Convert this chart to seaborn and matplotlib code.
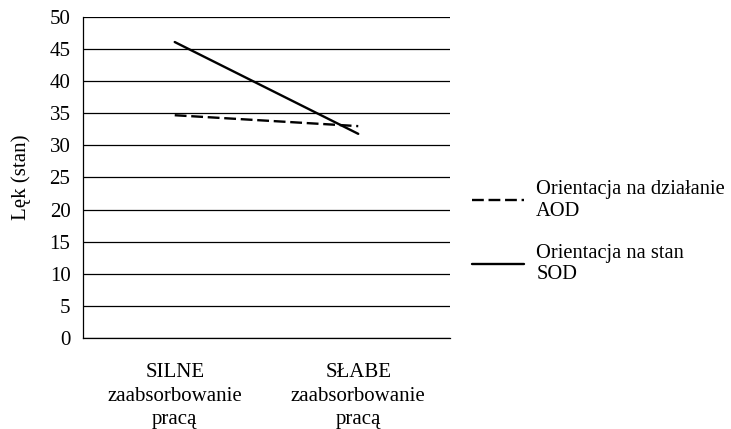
import pandas as pd
import matplotlib
matplotlib.use("Agg")
import matplotlib.pyplot as plt
import seaborn as sns

# dane
categories = ["SILNE\nzaabsorbowanie\npracą", "SŁABE\nzaabsorbowanie\npracą"]
series_names = ["Orientacja na działanie\nAOD", "Orientacja na stan\nSOD"]
aod_values = [34.7, 33.0]
sod_values = [46.1, 31.8]
y_ticks = list(range(0, 51, 5))

df = pd.DataFrame({
    "kategoria": categories * 2,
    "seria": [series_names[0]] * 2 + [series_names[1]] * 2,
    "lek": aod_values + sod_values,
})
df["x"] = df["kategoria"].map({c: i for i, c in enumerate(categories)})

sns.set_style("white")
plt.rcParams["font.family"] = ["Liberation Serif", "DejaVu Serif"]
plt.rcParams["text.color"] = "black"
plt.rcParams["xtick.color"] = "black"
plt.rcParams["ytick.color"] = "black"
plt.rcParams["axes.labelcolor"] = "black"

FS = 15

fig = plt.figure(figsize=(7.31, 4.29), dpi=100)
ax = fig.add_axes([0.1135, 0.2121, 0.5021, 0.7483])

sns.lineplot(data=df, x="x", y="lek", hue="seria", style="seria",
             palette=["black", "black"],
             dashes={series_names[0]: (5, 2), series_names[1]: ""},
             linewidth=1.7, ax=ax, legend=True)

ax.set_xlim(-0.5, 1.5)
ax.set_ylim(0, 50)
ax.set_yticks(y_ticks)
ax.set_xticks(range(len(categories)))
ax.set_xticklabels(categories, fontsize=FS, linespacing=1.33)
ax.tick_params(axis="y", labelsize=FS, length=0, pad=9)
ax.tick_params(axis="x", length=0, pad=18)
ax.set_xlabel("")
ax.set_ylabel("Lęk (stan)", fontsize=FS, labelpad=13)

ax.grid(axis="y", color="black", linewidth=0.9)
ax.set_axisbelow(True)
for side in ["top", "right"]:
    ax.spines[side].set_visible(False)
for side in ["left", "bottom"]:
    ax.spines[side].set_color("black")
    ax.spines[side].set_linewidth(0.9)

handles, labels = ax.get_legend_handles_labels()
ax.legend(handles, labels, loc="center left", bbox_to_anchor=(1.009, 0.33),
          frameon=False, fontsize=14.8, handlelength=2.55, handletextpad=0.58,
          labelspacing=1.12)

fig.savefig("out.png", dpi=100)
plt.close(fig)
